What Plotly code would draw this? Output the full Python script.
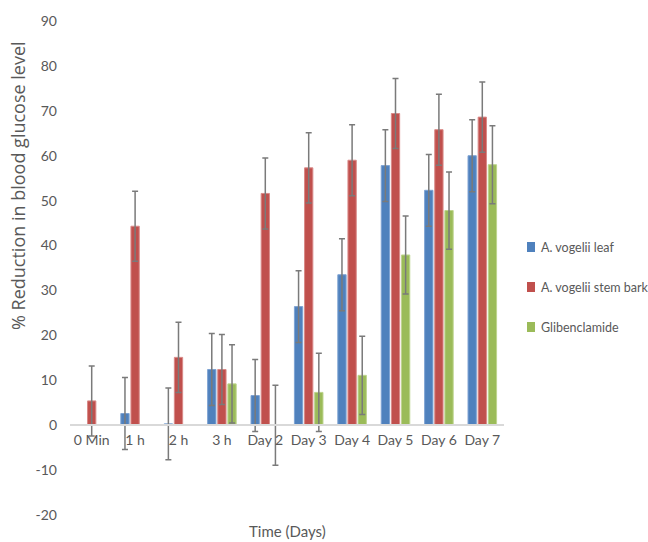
import plotly.graph_objects as go

# Time points on the category axis
categories = ["0 Min", "1 h", "2 h", "3 h", "Day 2", "Day 3", "Day 4", "Day 5", "Day 6", "Day 7"]

# % reduction in blood glucose level per treatment
leaf = [0, 2.6, 0.3, 12.4, 6.6, 26.4, 33.5, 57.8, 52.3, 60.0]
stem_bark = [5.4, 44.3, 15.1, 12.4, 51.6, 57.3, 59.0, 69.4, 65.8, 68.6]
glibenclamide = [0, 0, 0, 9.2, 0, 7.3, 11.1, 37.9, 47.8, 58.0]

# Error bar half-lengths (None = no error bar)
leaf_err = [None, 8.0, 8.0, 8.0, 8.0, 8.0, 8.0, 8.0, 8.0, 8.0]
stem_bark_err = [7.8, 7.8, 7.8, 7.8, 7.9, 7.8, 7.9, 7.8, 7.9, 7.8]
glibenclamide_err = [None, None, None, 8.7, 8.9, 8.7, 8.7, 8.7, 8.6, 8.7]

# Value axis ticks
y_tickvals = [-20, -10, 0, 10, 20, 30, 40, 50, 60, 70, 80, 90]
y_ticktext = ["-20", "-10", "0", "10", "20", "30", "40", "50", "60", "70", "80", "90"]

series_names = ["A. vogelii leaf", "A. vogelii stem bark", "Glibenclamide"]
series_colors = ["#4f81bd", "#c0504d", "#9bbb59"]
series_edges = ["#7ea3d3", "#d98a88", "#bdd48e"]

FONT = "Lato, Roboto, Liberation Sans, sans-serif"
TEXT = "#595959"

# figure geometry (pixels)
W, H = 648, 542
ML, MR, MT, MB = 70, 144, 21, 27
PW, PH = W - ML - MR, H - MT - MB


def px_x(px):
    return (px - ML) / PW


def px_y(py):
    return (H - MB - py) / PH


fig = go.Figure()
for name, vals, errs, color, edge in zip(series_names,
                                         [leaf, stem_bark, glibenclamide],
                                         [leaf_err, stem_bark_err, glibenclamide_err],
                                         series_colors, series_edges):
    fig.add_trace(go.Bar(
        name=name,
        x=categories,
        y=vals,
        showlegend=False,
        marker=dict(color=color, line=dict(color=edge, width=1)),
        error_y=dict(type="data", array=errs, symmetric=True, visible=True,
                     color="#7a7a7a", thickness=1.5, width=3),
    ))

# Legend drawn as colour swatches with labels to the right of the plot
shapes = []
annotations = []
for k, (name, color) in enumerate(zip(series_names, series_colors)):
    cy = 247 + 40 * k
    shapes.append(dict(type="rect", xref="paper", yref="paper",
                       x0=px_x(527), x1=px_x(535), y0=px_y(cy + 5), y1=px_y(cy - 5),
                       fillcolor=color, line=dict(width=0)))
    annotations.append(dict(text=name, xref="paper", yref="paper",
                            x=px_x(539), y=px_y(cy), xanchor="left", yanchor="middle",
                            showarrow=False,
                            font=dict(family=FONT, size=12.5, color=TEXT)))

annotations += [
    dict(text="% Reduction in blood glucose level", xref="paper", yref="paper",
         x=px_x(18), y=px_y(186), textangle=-90, showarrow=False,
         xanchor="center", yanchor="middle",
         font=dict(family="Open Sans, DejaVu Sans, sans-serif", size=18, color=TEXT)),
    dict(text="Time (Days)", xref="paper", yref="paper",
         x=px_x(287), y=px_y(531), showarrow=False, xanchor="center", yanchor="middle",
         font=dict(family=FONT, size=15, color=TEXT)),
]

fig.update_layout(
    width=W, height=H,
    margin=dict(l=ML, r=MR, t=MT, b=MB),
    paper_bgcolor="white", plot_bgcolor="white",
    barmode="group", bargap=0.3, bargroupgap=0.18,
    font=dict(family=FONT, color=TEXT, size=14),
    showlegend=False,
    xaxis=dict(
        type="category", anchor="free", position=20 / 110,
        showline=True, linecolor="#d9d9d9", linewidth=1.5,
        showgrid=False, zeroline=False, ticks="", tickangle=0,
        tickfont=dict(family=FONT, size=14, color=TEXT),
        ticklabelstandoff=2,
    ),
    yaxis=dict(
        range=[-20, 90], tickvals=y_tickvals, ticktext=y_ticktext,
        showline=False, showgrid=False, zeroline=False, ticks="",
        tickfont=dict(family=FONT, size=14, color=TEXT),
        ticklabelstandoff=12,
    ),
    shapes=shapes,
    annotations=annotations,
)

fig.write_html("out.html")
